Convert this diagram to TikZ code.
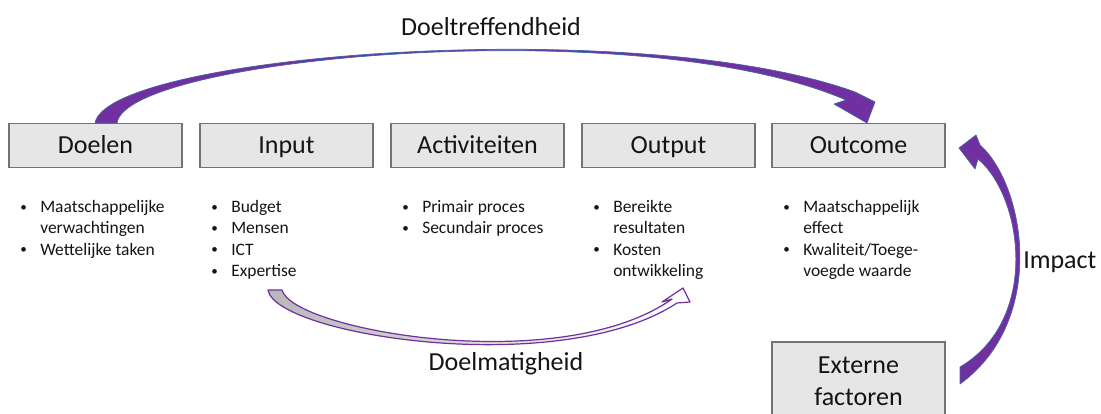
\documentclass[tikz,border=0pt]{standalone}
\usepackage{fontspec}
\setmainfont{Carlito}
\definecolor{boxfill}{RGB}{230,230,230}
\definecolor{boxedge}{RGB}{115,115,115}
\definecolor{arrowpurple}{RGB}{112,48,160}
\definecolor{arrowedge}{RGB}{70,100,165}
\definecolor{inktext}{RGB}{20,20,20}
\newcommand{\lbul}{\raisebox{0.15ex}{\scalebox{0.75}{\textbullet}}}
\begin{document}
\begin{tikzpicture}[x=0.75pt,y=-0.75pt,
  stagebox/.style={draw=boxedge, line width=1.1pt, fill=boxfill, inner sep=0pt,
    minimum width=129.75pt, minimum height=33pt, text=inktext,
    font=\fontsize{19.5}{24}\selectfont},
  stagelabel/.style={text height=12.6pt, text depth=0pt},
  listtext/.style={anchor=north west, inner sep=0pt, text=inktext,
    font=\fontsize{13.1}{16.1}\selectfont},
  biglabel/.style={inner sep=0pt, text=inktext, font=\fontsize{19.5}{24}\selectfont},
  solidarrow/.style={fill=arrowpurple, draw=arrowedge, line width=0.55pt, line join=round},
  hollowarrow/.style={left color=black!28, right color=white, draw=arrowpurple, line width=0.9pt, line join=round}
]
\useasboundingbox (0,0) rectangle (1101,414);

% stage boxes
\node[stagebox, stagelabel] (doelen) at (95.5,145.5) {Doelen};
\node[stagebox, stagelabel] (input) at (286.5,145.5) {Input};
\node[stagebox, stagelabel] (activiteiten) at (477.5,145.5) {Activiteiten};
\node[stagebox, stagelabel] (output) at (668.5,145.5) {Output};
\node[stagebox, stagelabel] (outcome) at (858.5,145.5) {Outcome};
\node[stagebox, minimum height=58.5pt, align=center] (externe) at (858.5,381) {Externe\\factoren};

% bullet lists
\node[listtext] (doelenlist) at (20,197) {\begin{tabular}{@{}p{15pt}@{}l@{}}\lbul & Maatschappelijke\\ & verwachtingen\\ \lbul & Wettelijke taken\end{tabular}};
\node[listtext] (inputlist) at (211,197) {\begin{tabular}{@{}p{15pt}@{}l@{}}\lbul & Budget\\ \lbul & Mensen\\ \lbul & ICT\\ \lbul & Expertise\end{tabular}};
\node[listtext] (activiteitenlist) at (402,197) {\begin{tabular}{@{}p{15pt}@{}l@{}}\lbul & Primair proces\\ \lbul & Secundair proces\end{tabular}};
\node[listtext] (outputlist) at (593,197) {\begin{tabular}{@{}p{15pt}@{}l@{}}\lbul & Bereikte\\ & resultaten\\ \lbul & Kosten\\ & ontwikkeling\end{tabular}};
\node[listtext] (outcomelist) at (783,197) {\begin{tabular}{@{}p{15pt}@{}l@{}}\lbul & Maatschappelijk\\ & effect\\ \lbul & Kwaliteit/Toege-\\ & voegde waarde\end{tabular}};

% labels
\node[biglabel, anchor=base] (doeltreffendheid) at (491,36) {Doeltreffendheid};
\node[biglabel, anchor=base] (doelmatigheid) at (506,370) {Doelmatigheid};
\node[biglabel, anchor=base west] (impact) at (1023,268) {Impact};

% Doeltreffendheid arrow: Doelen -> Outcome
\filldraw[solidarrow] (95,123) .. controls (108,54) and (640,14) .. (855,92)
  -- (875,102) -- (867,123) -- (834,104) -- (846,100)
  .. controls (640,11) and (126,57) .. (117,123) -- cycle;

% Impact arrow: Externe factoren -> Outcome
\filldraw[solidarrow] (980,145) .. controls (1025,185) and (1048,320) .. (960,384)
  -- (960,367) .. controls (1040,320) and (1023,197) .. (978,159)
  -- (975,169) -- (959,148) -- (976,135) -- cycle;

% Doelmatigheid arrow: Input -> Output
\shadedraw[hollowarrow] (268,290) .. controls (275,335) and (560,380) .. (677,303)
  -- (690,302) -- (683,288) -- (662,302) -- (672,299)
  .. controls (560,378) and (292,330) .. (282,290) -- cycle;
\end{tikzpicture}
\end{document}
